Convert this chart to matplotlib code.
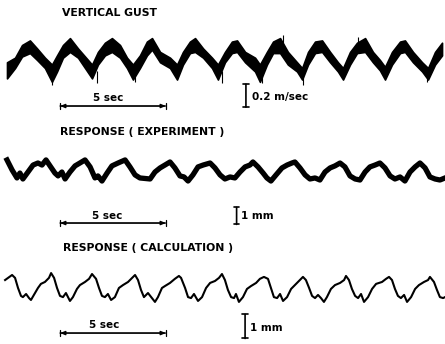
import matplotlib
matplotlib.use('Agg')
import matplotlib.pyplot as plt

# time axis in seconds, amplitudes in the units of the scale bars
gust_t = [0.00, 0.38, 0.71, 1.08, 1.42, 1.79, 2.12, 2.36, 2.64, 2.97, 3.35, 3.68,
          4.01, 4.29, 4.62, 4.95, 5.33, 5.66, 5.94, 6.27, 6.60, 6.84, 7.22, 7.69,
          8.02, 8.30, 8.63, 8.87, 9.25, 9.67, 9.95, 10.28, 10.61, 10.85, 11.23,
          11.70, 11.93, 12.26, 12.55, 12.88, 13.25, 13.68, 13.92, 14.20, 14.53,
          14.86, 15.24, 15.61, 15.85, 16.18, 16.51, 16.89, 17.26, 17.59, 17.83,
          18.16, 18.54, 18.77, 19.15, 19.58, 19.86, 20.19, 20.52]
gust_hi = [-0.02, 0.02, 0.13, 0.17, 0.10, 0.02, -0.04, 0.04, 0.13, 0.19, 0.10, 0.03,
           -0.04, 0.07, 0.15, 0.19, 0.13, 0.02, -0.04, 0.04, 0.16, 0.19, 0.07, 0.02,
           -0.04, 0.07, 0.16, 0.19, 0.10, 0.02, -0.04, 0.07, 0.16, 0.17, 0.07,
           0.02, -0.04, 0.07, 0.16, 0.19, 0.07, -0.02, -0.07, 0.07, 0.16,
           0.17, 0.07, -0.02, -0.07, 0.07, 0.15, 0.19, 0.07, 0.00, -0.06,
           0.07, 0.16, 0.17, 0.07, -0.02, -0.07, 0.07, 0.15]
gust_lo = [-0.16, -0.07, 0.03, 0.06, 0.00, -0.07, -0.19, -0.10, 0.02, 0.07, 0.02, -0.07,
           -0.16, -0.04, 0.04, 0.07, 0.02, -0.07, -0.17, -0.07, 0.04, 0.09, -0.02, -0.07,
           -0.17, -0.04, 0.06, 0.07, 0.02, -0.07, -0.17, -0.02, 0.06, 0.07, -0.02,
           -0.10, -0.19, -0.04, 0.06, 0.06, -0.04, -0.10, -0.17, -0.04, 0.06,
           0.07, -0.02, -0.10, -0.17, -0.04, 0.06, 0.07, -0.02, -0.09, -0.17,
           -0.04, 0.06, 0.07, -0.02, -0.10, -0.17, -0.04, 0.04]
# isolated noise spikes on the gust record
spike_t = [2.12, 4.25, 6.05, 10.15, 12.05, 13.95, 19.8, 13.02, 16.55]
spike_lo = [-0.12, -0.10, -0.10, -0.10, -0.12, -0.12, -0.10, 0.14, 0.14]
spike_hi = [-0.22, -0.20, -0.19, -0.20, -0.20, -0.22, -0.19, 0.22, 0.20]

exp_t = [0.00, 0.24, 0.47, 0.61, 0.75, 0.99, 1.23, 1.46, 1.65, 1.84, 2.03, 2.26,
         2.41, 2.59, 2.74, 2.97, 3.21, 3.44, 3.68, 3.92, 4.15, 4.29, 4.48, 4.72,
         4.95, 5.24, 5.57, 5.80, 6.04, 6.27, 6.51, 6.75, 6.98, 7.22, 7.45, 7.69,
         7.92, 8.16, 8.35, 8.54, 8.77, 9.01, 9.25, 9.58, 9.81, 10.05, 10.28, 10.52,
         10.75, 10.99, 11.23, 11.46, 11.60, 11.84, 12.08, 12.26, 12.45, 12.69, 12.97,
         13.21, 13.44, 13.58, 13.82, 14.06, 14.29, 14.53, 14.76, 15.00, 15.24, 15.47,
         15.71, 15.94, 16.18, 16.42, 16.65, 16.89, 17.12, 17.36, 17.59, 17.83, 18.07,
         18.30, 18.54, 18.77, 19.01, 19.25, 19.48, 19.72, 19.95, 20.19, 20.42, 20.66]
exp_mm = [0.59, 0.00, -0.47, -0.18, -0.53, -0.12, 0.29, 0.41, 0.29, 0.59, 0.24, -0.18,
          -0.35, -0.12, -0.53, -0.12, 0.24, 0.41, 0.59, 0.18, -0.47, -0.35, -0.65, -0.18,
          0.24, 0.41, 0.59, 0.18, -0.29, -0.47, -0.50, -0.53, -0.12, 0.12, 0.29, 0.47,
          0.12, -0.35, -0.41, -0.65, -0.29, 0.18, 0.29, 0.41, 0.12, -0.29, -0.53, -0.41,
          -0.47, -0.12, 0.18, 0.29, 0.47, 0.18, -0.18, -0.47, -0.65, -0.29, 0.12,
          0.29, 0.41, 0.47, 0.12, -0.29, -0.53, -0.47, -0.59, -0.12, 0.12, 0.24,
          0.41, 0.18, -0.35, -0.53, -0.59, -0.12, 0.18, 0.29, 0.41, 0.12, -0.35,
          -0.53, -0.41, -0.65, -0.12, 0.18, 0.41, 0.12, -0.41, -0.53, -0.59, -0.47]

calc_t = [-0.09, 0.05, 0.24, 0.38, 0.52, 0.66, 0.75, 0.90, 1.04, 1.13, 1.27, 1.46,
          1.60, 1.79, 1.98, 2.08, 2.22, 2.36, 2.50, 2.64, 2.78, 2.97, 3.11, 3.30,
          3.44, 3.68, 3.87, 4.01, 4.20, 4.34, 4.48, 4.62, 4.76, 4.91, 5.09, 5.28,
          5.47, 5.71, 5.90, 6.04, 6.18, 6.32, 6.46, 6.65, 6.84, 6.98, 7.12, 7.31,
          7.45, 7.69, 7.92, 8.11, 8.21, 8.40, 8.54, 8.68, 8.82, 9.01, 9.20, 9.39,
          9.58, 9.81, 10.00, 10.14, 10.28, 10.42, 10.57, 10.71, 10.80, 10.94, 11.13,
          11.32, 11.51, 11.75, 11.93, 12.12, 12.31, 12.45, 12.59, 12.74, 12.88, 13.02,
          13.21, 13.40, 13.58, 13.77, 13.96, 14.10, 14.25, 14.39, 14.53, 14.67, 14.81,
          14.95, 15.09, 15.28, 15.47, 15.71, 15.90, 15.99, 16.13, 16.27, 16.42, 16.56,
          16.70, 16.84, 17.03, 17.22, 17.41, 17.69, 17.88, 18.02, 18.16, 18.30, 18.44,
          18.58, 18.73, 18.87, 19.06, 19.25, 19.43, 19.67, 19.86, 19.95, 20.14, 20.28,
          20.42, 20.57, 20.66]
calc_mm = [0.33, 0.42, 0.54, 0.42, 0.00, -0.33, -0.38, -0.25, -0.42, -0.50, -0.29, 0.00,
           0.17, 0.25, 0.42, 0.62, 0.42, 0.00, -0.33, -0.38, -0.21, -0.54, -0.38, -0.04,
           0.12, 0.25, 0.38, 0.58, 0.38, 0.00, -0.33, -0.38, -0.25, -0.50, -0.38, 0.00,
           0.12, 0.25, 0.42, 0.54, 0.33, -0.08, -0.38, -0.21, -0.42, -0.58, -0.38, 0.00,
           0.08, 0.21, 0.38, 0.50, 0.42, 0.00, -0.38, -0.42, -0.25, -0.54, -0.38, 0.00,
           0.21, 0.29, 0.42, 0.58, 0.33, -0.08, -0.38, -0.42, -0.25, -0.58, -0.38,
           -0.04, 0.08, 0.21, 0.38, 0.46, 0.38, 0.00, -0.38, -0.42, -0.25, -0.54,
           -0.38, -0.04, 0.12, 0.29, 0.46, 0.33, 0.00, -0.33, -0.42, -0.29, -0.42,
           -0.58, -0.38, -0.04, 0.12, 0.21, 0.33, 0.50, 0.33, -0.04, -0.33, -0.42,
           -0.25, -0.58, -0.38, -0.04, 0.17, 0.25, 0.38, 0.46, 0.33, -0.04, -0.33,
           -0.42, -0.29, -0.58, -0.38, -0.04, 0.12, 0.25, 0.33, 0.46, 0.25, -0.08,
           -0.38, -0.42, -0.38]

fig = plt.figure(figsize=(4.45, 3.44), dpi=100)
font = dict(family='DejaVu Sans', weight='bold', color='black')
H = 344.0
TITLE_FS = 7.8
LABEL_FS = 7.5


def panel(top_px, bot_px, ylim):
    ax = fig.add_axes([0, 1 - bot_px / H, 1, (bot_px - top_px) / H])
    ax.set_xlim(-0.33, 20.66)
    ax.set_ylim(*ylim)
    ax.axis('off')
    return ax


def hbar(ax, y, t0=2.5, t1=7.5):
    ax.annotate('', xy=(t0, y), xytext=(t1, y),
                arrowprops=dict(arrowstyle='|-|, widthA=0.2, widthB=0.2',
                                lw=0.9, color='black', shrinkA=0, shrinkB=0))
    ax.annotate('', xy=(t0, y), xytext=(t1, y),
                arrowprops=dict(arrowstyle='<|-|>, head_length=0.3, head_width=0.12',
                                lw=0.9, color='black', shrinkA=0, shrinkB=0))


def vbar(ax, t, y0, y1):
    ax.annotate('', xy=(t, y0), xytext=(t, y1),
                arrowprops=dict(arrowstyle='|-|, widthA=0.2, widthB=0.2',
                                lw=1.2, color='black', shrinkA=0, shrinkB=0))


# vertical gust
fig.text(62 / 445, 1 - 13 / H, 'VERTICAL GUST', fontsize=TITLE_FS, va='center', **font)
ax1 = panel(25, 112, (-0.452, 0.304))
ax1.fill_between(gust_t, gust_lo, gust_hi, color='black', lw=1.2)
ax1.vlines(spike_t, spike_lo, spike_hi, color='black', lw=0.8)
hbar(ax1, -0.40)
ax1.text(4.75, -0.33, '5 sec', fontsize=LABEL_FS, ha='center', va='center', **font)
vbar(ax1, 11.27, -0.41, -0.21)
ax1.text(11.56, -0.32, '0.2 m/sec', fontsize=LABEL_FS, ha='left', va='center', **font)

# response, experiment
fig.text(60 / 445, 1 - 132 / H, 'RESPONSE ( EXPERIMENT )', fontsize=TITLE_FS, va='center', **font)
ax2 = panel(138, 230, (-3.53, 1.88))
ax2.plot(exp_t, exp_mm, color='black', lw=3.8, solid_joinstyle='round')
hbar(ax2, -3.12)
ax2.text(4.72, -2.72, '5 sec', fontsize=LABEL_FS, ha='center', va='center', **font)
vbar(ax2, 10.83, -3.2, -2.2)
ax2.text(11.04, -2.72, '1 mm', fontsize=LABEL_FS, ha='left', va='center', **font)

# response, calculation
fig.text(63 / 445, 1 - 248 / H, 'RESPONSE ( CALCULATION )', fontsize=TITLE_FS, va='center', **font)
ax3 = panel(262, 344, (-2.33, 1.08))
ax3.plot(calc_t, calc_mm, color='black', lw=1.5, solid_joinstyle='round')
hbar(ax3, -1.875)
ax3.text(4.6, -1.56, '5 sec', fontsize=LABEL_FS, ha='center', va='center', **font)
vbar(ax3, 11.23, -2.1, -1.1)
ax3.text(11.46, -1.65, '1 mm', fontsize=LABEL_FS, ha='left', va='center', **font)

fig.savefig('out.png', dpi=100)
